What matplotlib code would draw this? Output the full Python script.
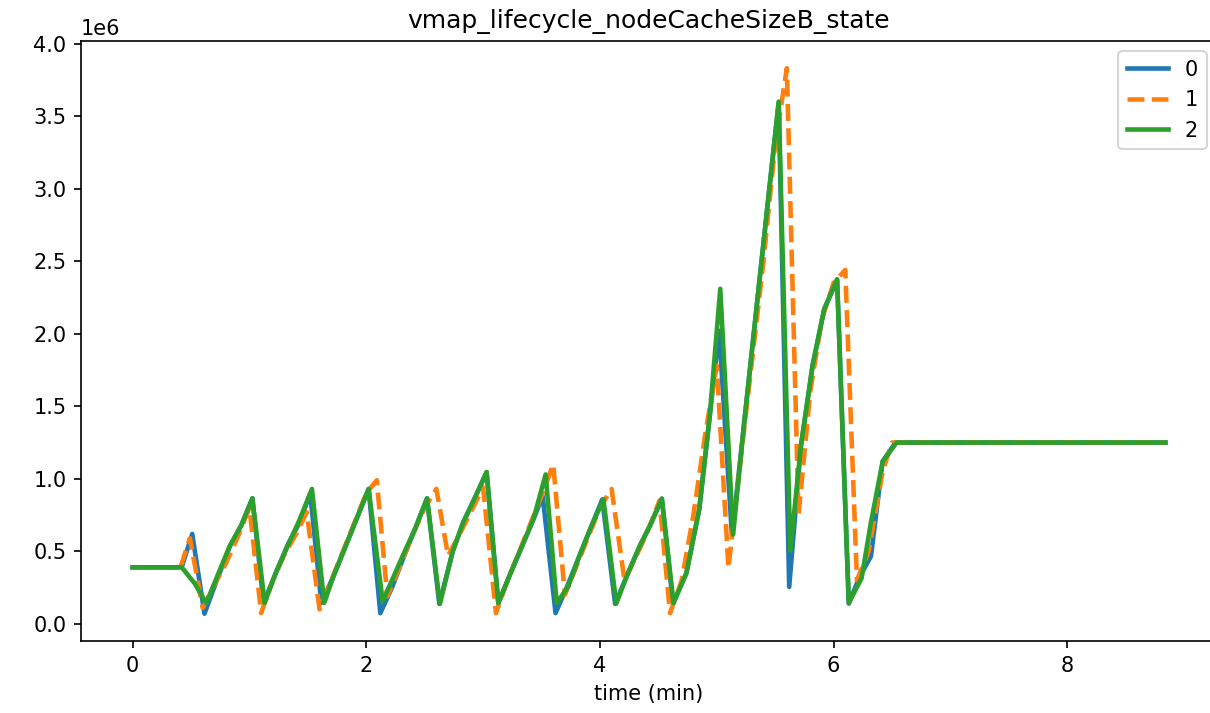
import matplotlib
matplotlib.use('Agg')
import matplotlib.pyplot as plt

# series 0
t0 = [0, 0.42, 0.51, 0.615, 0.72, 0.83, 0.93, 1.025, 1.12, 1.23, 1.33, 1.43, 1.52,
      1.615, 1.72, 1.82, 1.92, 2.02, 2.12, 2.22, 2.32, 2.42, 2.52, 2.625, 2.74, 2.83,
      2.93, 3.03, 3.13, 3.23, 3.33, 3.43, 3.51, 3.62, 3.72, 3.82, 3.92, 4.02, 4.13,
      4.23, 4.34, 4.43, 4.53, 4.625, 4.74, 4.85, 4.94, 5.02, 5.13, 5.23, 5.33, 5.43,
      5.53, 5.62, 5.72, 5.82, 5.92, 6.03, 6.13, 6.22, 6.32, 6.42, 6.53, 8.84]
v0 = [0.39, 0.39, 0.62, 0.07, 0.30, 0.53, 0.68, 0.865, 0.145, 0.36, 0.55, 0.70, 0.90,
      0.145, 0.33, 0.53, 0.73, 0.93, 0.074, 0.25, 0.46, 0.66, 0.865, 0.138, 0.50, 0.70,
      0.87, 1.045, 0.143, 0.34, 0.53, 0.72, 0.88, 0.074, 0.26, 0.46, 0.66, 0.858, 0.138,
      0.33, 0.535, 0.68, 0.863, 0.143, 0.35, 0.79, 1.43, 2.02, 0.61, 1.35, 2.10, 2.85,
      3.59, 0.255, 1.22, 1.78, 2.17, 2.37, 0.14, 0.32, 0.466, 1.12, 1.25, 1.25]

# series 1
t1 = [0, 0.41, 0.49, 0.60, 0.70, 0.80, 0.90, 1.00, 1.10, 1.20, 1.30, 1.40, 1.49,
      1.60, 1.70, 1.80, 1.90, 2.00, 2.09, 2.18, 2.30, 2.40, 2.50, 2.60, 2.70, 2.80,
      2.90, 3.00, 3.11, 3.20, 3.30, 3.40, 3.50, 3.60, 3.70, 3.80, 3.90, 4.00, 4.10,
      4.21, 4.30, 4.40, 4.51, 4.60, 4.70, 4.80, 4.90, 5.00, 5.10, 5.20, 5.30, 5.40,
      5.50, 5.60, 5.70, 5.80, 5.90, 6.00, 6.10, 6.20, 6.30, 6.42, 6.50, 8.84]
v1 = [0.39, 0.39, 0.59, 0.11, 0.27, 0.42, 0.60, 0.80, 0.075, 0.30, 0.48, 0.62, 0.77,
      0.10, 0.30, 0.50, 0.70, 0.90, 0.99, 0.19, 0.42, 0.62, 0.80, 0.93, 0.47, 0.62,
      0.78, 0.94, 0.074, 0.28, 0.48, 0.68, 0.88, 1.10, 0.20, 0.40, 0.60, 0.80, 0.93,
      0.30, 0.45, 0.62, 0.85, 0.074, 0.30, 0.75, 1.30, 1.78, 0.385, 1.10, 1.80, 2.50,
      3.30, 3.83, 0.75, 1.60, 2.10, 2.35, 2.44, 0.30, 0.50, 1.05, 1.25, 1.25]

# series 2
t2 = [0, 0.42, 0.53, 0.63, 0.72, 0.83, 0.93, 1.025, 1.13, 1.23, 1.34, 1.43, 1.535,
      1.64, 1.72, 1.82, 1.92, 2.02, 2.14, 2.22, 2.31, 2.42, 2.52, 2.63, 2.74, 2.83,
      2.93, 3.03, 3.13, 3.23, 3.33, 3.43, 3.535, 3.63, 3.73, 3.82, 3.92, 4.03, 4.14,
      4.23, 4.34, 4.43, 4.53, 4.63, 4.74, 4.85, 4.94, 5.03, 5.14, 5.23, 5.33, 5.43,
      5.53, 5.63, 5.72, 5.82, 5.92, 6.03, 6.13, 6.24, 6.32, 6.42, 6.54, 8.84]
v2 = [0.39, 0.39, 0.28, 0.143, 0.32, 0.535, 0.68, 0.865, 0.145, 0.36, 0.56, 0.72, 0.93,
      0.145, 0.33, 0.53, 0.73, 0.93, 0.155, 0.30, 0.466, 0.66, 0.865, 0.138, 0.50, 0.70,
      0.87, 1.047, 0.143, 0.34, 0.53, 0.72, 1.03, 0.143, 0.26, 0.46, 0.66, 0.858, 0.14,
      0.33, 0.535, 0.68, 0.863, 0.143, 0.35, 0.79, 1.435, 2.31, 0.616, 1.35, 2.10, 2.85,
      3.60, 0.505, 1.227, 1.78, 2.17, 2.376, 0.143, 0.316, 0.70, 1.12, 1.25, 1.25]

fig = plt.figure(figsize=(1210 / 150, 713 / 150), dpi=150)
# axes run a little past the right edge of the image, as in the original
ax = fig.add_axes([81 / 1210, 72 / 713, 1136 / 1210, 600 / 713])

ax.plot(t0, [v * 1e6 for v in v0], '-', linewidth=2.2, label='0')
ax.plot(t1, [v * 1e6 for v in v1], '--', linewidth=2.2, label='1')
ax.plot(t2, [v * 1e6 for v in v2], '-', linewidth=2.2, label='2')

ax.set_title('vmap_lifecycle_nodeCacheSizeB_state')
ax.set_xlabel('time (min)')
ax.legend(loc='upper right')

fig.savefig('out.png', dpi=150)
